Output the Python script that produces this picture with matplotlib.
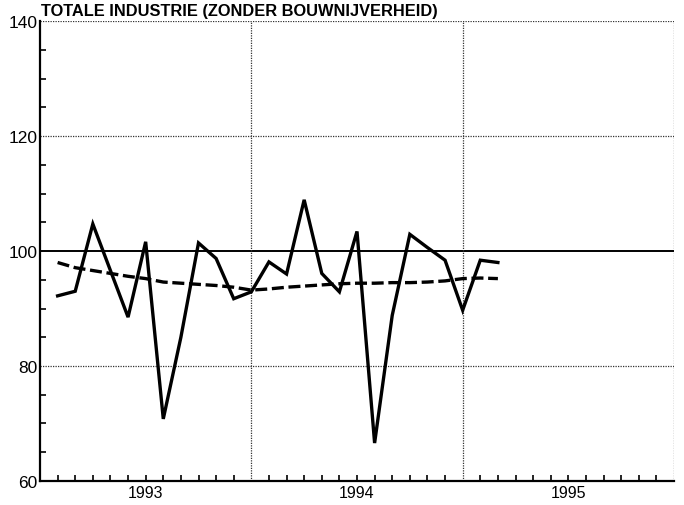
import matplotlib.pyplot as plt

# month index: 0 = start of 1993, 36 = end of 1995
months = list(range(1, 27))

# index totale industrie (monthly)
index = [92.2, 93.0, 104.7, 96.6, 88.5, 101.6, 70.8, 85.0, 101.4, 98.7, 91.7, 92.9,
         98.1, 96.0, 108.9, 96.1, 92.9, 103.4, 66.6, 88.8, 102.9, 100.6, 98.4, 89.7,
         98.4, 98.0]

# trend (dashed)
trend = [98.0, 97.1, 96.6, 96.1, 95.6, 95.2, 94.6, 94.4, 94.2, 94.0, 93.7, 93.2,
         93.4, 93.7, 93.9, 94.1, 94.3, 94.4, 94.4, 94.5, 94.5, 94.6, 94.8, 95.2,
         95.3, 95.2]

year_labels = ['1993', '1994', '1995']

plt.rcParams['font.family'] = ['Liberation Sans', 'DejaVu Sans']

fig = plt.figure(figsize=(6.84, 5.06), dpi=100)
ax = fig.add_axes([40 / 684, 24 / 506, 634 / 684, 460 / 506])

ax.set_xlim(0, 36)
ax.set_ylim(60, 140)

# grid lines
for y in [80, 120, 140]:
    ax.axhline(y, color='#333333', lw=0.9, ls=(0, (1, 1)), zorder=1)
ax.axhline(100, color='black', lw=1.4, zorder=1)
for x in [12, 24, 36]:
    ax.axvline(x, color='#333333', lw=0.9, ls=(0, (1, 1)), zorder=1)

ax.plot(months, index, color='black', lw=2.4, solid_joinstyle='miter', zorder=3)
ax.plot(months, trend, color='black', lw=2.4, dashes=(3.6, 1.4), zorder=3)

for side in ['top', 'right']:
    ax.spines[side].set_visible(False)
for side in ['left', 'bottom']:
    ax.spines[side].set_linewidth(1.6)

ax.set_xticks([6, 18, 30])
ax.set_xticklabels(year_labels)
ax.set_xticks([m for m in range(1, 36) if m not in (6, 12, 18, 24, 30)], minor=True)
ax.set_yticks([60, 80, 100, 120, 140])
ax.set_yticks([65, 70, 75, 85, 90, 95, 105, 110, 115, 125, 130, 135], minor=True)

ax.tick_params(axis='x', which='both', direction='in', length=4.5, width=1.2, labelsize=11.5, pad=3)
ax.tick_params(axis='y', which='major', length=0, labelsize=12.5, pad=2)
ax.tick_params(axis='y', which='minor', direction='in', length=4.5, width=1.2)

fig.text(41 / 684, 1 - 4 / 506, 'TOTALE INDUSTRIE (ZONDER BOUWNIJVERHEID)',
         fontsize=11.8, fontweight='bold', ha='left', va='top')

fig.savefig('out.png', dpi=100)
